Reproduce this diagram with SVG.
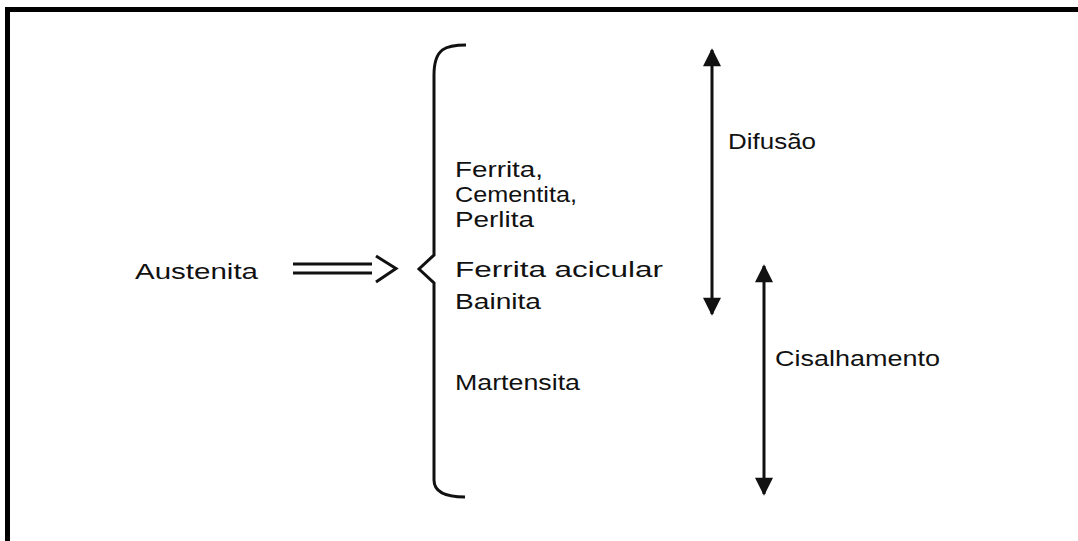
<svg xmlns="http://www.w3.org/2000/svg" width="1078" height="541" viewBox="0 0 1078 541">
  <style>
    .lbl { font-family: "Liberation Sans", Arial, sans-serif; font-size: 22px; fill: #111; }
    .ln { stroke: #111; stroke-width: 3; fill: none; }
    .frame { stroke: #000; stroke-width: 5; fill: none; }
  </style>
  <defs>
    <marker id="tip" viewBox="0 0 10 10" refX="9" refY="5" markerWidth="6.5" markerHeight="6" orient="auto-start-reverse" markerUnits="strokeWidth">
      <path d="M0,0 L10,5 L0,10 Z" fill="#111"/>
    </marker>
  </defs>
  <rect width="1078" height="541" fill="#fff"/>
  <path class="frame" d="M7.5,541 V9.5 H1078"/>

  <g id="austenita">
    <text class="lbl" x="135" y="279" textLength="123" lengthAdjust="spacingAndGlyphs">Austenita</text>
  </g>

  <g id="produtos">
    <text class="lbl" x="455" y="177" textLength="88" lengthAdjust="spacingAndGlyphs">Ferrita,</text>
    <text class="lbl" x="455" y="202" textLength="122" lengthAdjust="spacingAndGlyphs">Cementita,</text>
    <text class="lbl" x="455" y="227" textLength="79" lengthAdjust="spacingAndGlyphs">Perlita</text>
    <text class="lbl" x="455" y="277" textLength="208" lengthAdjust="spacingAndGlyphs">Ferrita acicular</text>
    <text class="lbl" x="455" y="309" textLength="86" lengthAdjust="spacingAndGlyphs">Bainita</text>
    <text class="lbl" x="455" y="390" textLength="125" lengthAdjust="spacingAndGlyphs">Martensita</text>
  </g>

  <g id="difusao">
    <text class="lbl" x="728" y="149" textLength="88" lengthAdjust="spacingAndGlyphs">Difusão</text>
  </g>

  <g id="cisalhamento">
    <text class="lbl" x="775" y="366" textLength="165" lengthAdjust="spacingAndGlyphs">Cisalhamento</text>
  </g>

  <g id="connectors">
    <!-- double arrow into the brace -->
    <path class="ln" d="M293,264 H372 M293,273 H372"/>
    <path class="ln" d="M376,256 L396,268.5 L376,282"/>
    <!-- brace -->
    <path class="ln" d="M466,45 C446,45 434,48 434,75 V255 L419,269 L434,283 V480 C434,492 446,497 465,497"/>
    <!-- range arrows -->
    <line class="ln" x1="712" y1="50" x2="712" y2="314" marker-start="url(#tip)" marker-end="url(#tip)"/>
    <line class="ln" x1="764" y1="266" x2="764" y2="494" marker-start="url(#tip)" marker-end="url(#tip)"/>
  </g>
</svg>
